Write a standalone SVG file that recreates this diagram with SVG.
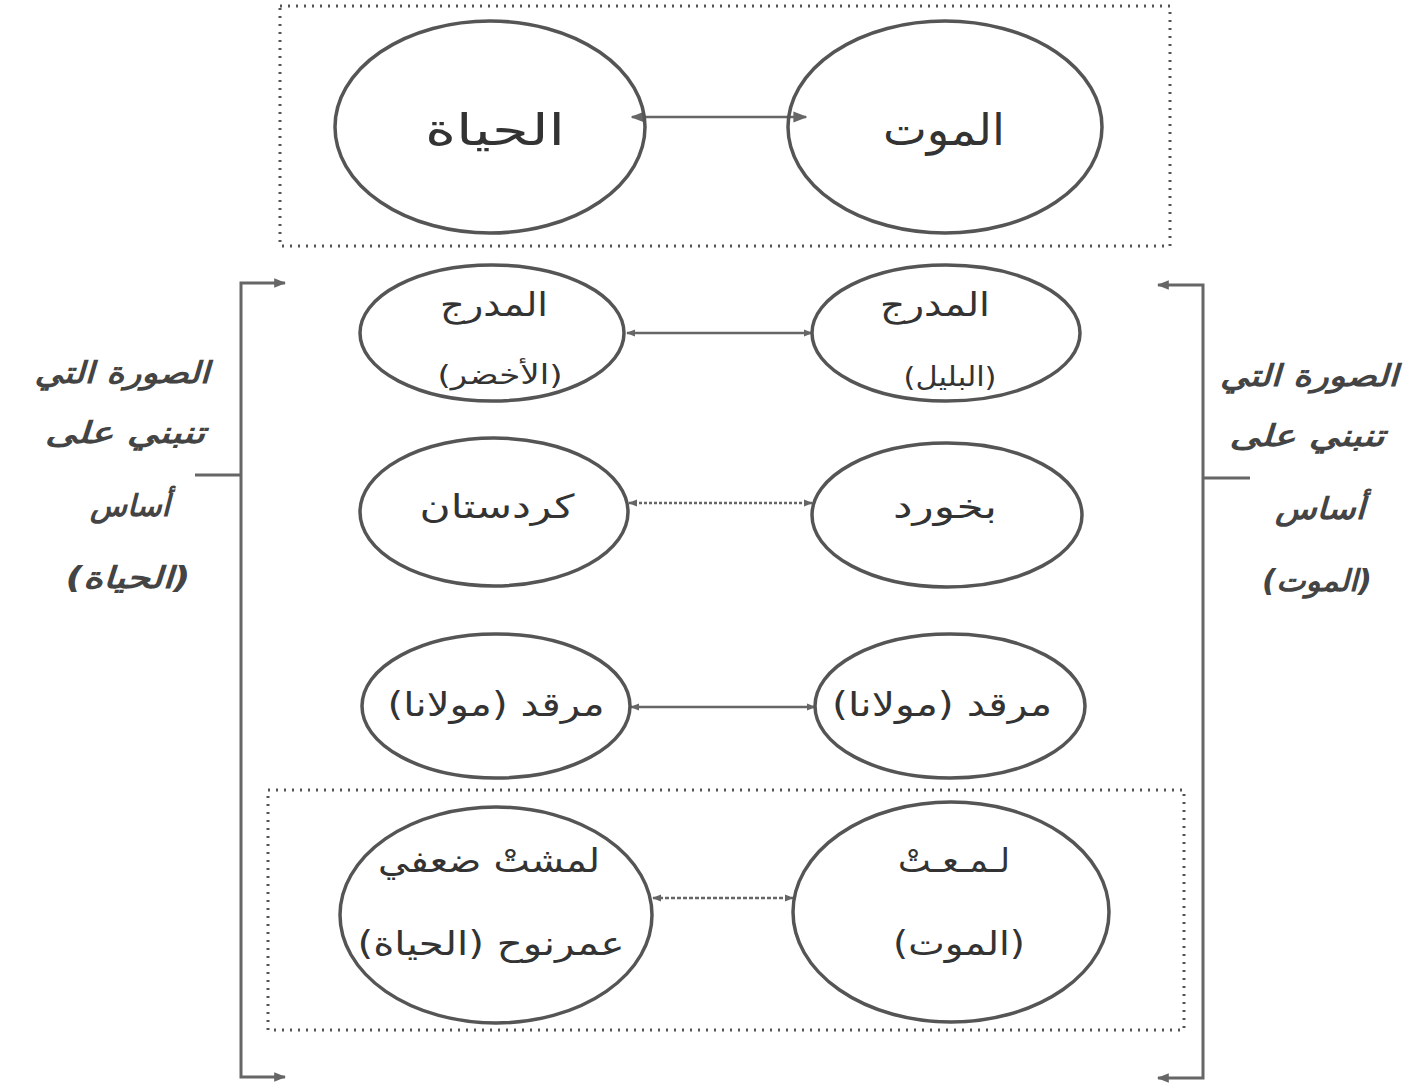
<svg xmlns="http://www.w3.org/2000/svg" width="1427" height="1091" viewBox="0 0 1427 1091">
<style>
.ell{fill:none;stroke:#555;stroke-width:3.5}
.t{font-family:"DejaVu Sans",sans-serif;fill:#333;text-anchor:middle}
.big{font-size:44px}
.mid{font-size:33px}
.sm{font-size:27px}
.side{font-family:"DejaVu Sans",sans-serif;fill:#444;text-anchor:middle;font-size:30px;font-weight:bold;font-style:italic}
.box{fill:none;stroke:#555;stroke-width:3;stroke-dasharray:2 6}
.con{fill:none;stroke:#666;stroke-width:2.5}
.br{fill:none;stroke:#666;stroke-width:3}
</style>
<defs>
<marker id="ah" viewBox="0 0 10 10" refX="9" refY="5" markerWidth="9" markerHeight="9" orient="auto-start-reverse" markerUnits="userSpaceOnUse">
<path d="M0,1 L10,5 L0,9 z" fill="#666"/>
</marker>
<marker id="ahb" viewBox="0 0 10 10" refX="9" refY="5" markerWidth="14" markerHeight="14" orient="auto-start-reverse" markerUnits="userSpaceOnUse">
<path d="M0,1 L10,5 L0,9 z" fill="#666"/>
</marker>
<marker id="ahk" viewBox="0 0 10 10" refX="9" refY="5" markerWidth="12" markerHeight="12" orient="auto-start-reverse" markerUnits="userSpaceOnUse">
<path d="M0,1 L10,5 L0,9 z" fill="#666"/>
</marker>
</defs>
<rect width="1427" height="1091" fill="#fff"/>

<g id="frames">
<rect class="box" x="280" y="6" width="890" height="240"/>
<rect class="box" x="268" y="790" width="916" height="240"/>
</g>

<g id="connectors">
<line class="con" x1="632" y1="117" x2="806" y2="117" stroke-width="3.5" marker-start="url(#ahb)" marker-end="url(#ahb)"/>
<line class="con" x1="627" y1="333" x2="812" y2="333" marker-start="url(#ah)" marker-end="url(#ah)"/>
<line class="con" x1="629" y1="503" x2="812" y2="503" stroke-dasharray="3 2" marker-start="url(#ah)" marker-end="url(#ah)"/>
<line class="con" x1="631" y1="707" x2="815" y2="707" marker-start="url(#ah)" marker-end="url(#ah)"/>
<line class="con" x1="653" y1="898" x2="793" y2="898" stroke-dasharray="4 2" marker-start="url(#ah)" marker-end="url(#ah)"/>
<path class="br" d="M285,283 H241 V1077 H285" marker-start="url(#ahk)" marker-end="url(#ahk)"/>
<line class="br" x1="195" y1="475" x2="241" y2="475"/>
<path class="br" d="M1158,285 H1203 V1078 H1158" marker-start="url(#ahk)" marker-end="url(#ahk)"/>
<line class="br" x1="1203" y1="478" x2="1250" y2="478"/>
</g>

<g id="n-hayat">
<ellipse class="ell" cx="490" cy="127" rx="155" ry="106"/>
<text class="t big" x="495" y="145" direction="rtl" textLength="140" lengthAdjust="spacingAndGlyphs">الحياة</text>
</g>
<g id="n-mawt">
<ellipse class="ell" cx="945" cy="127" rx="157" ry="106"/>
<text class="t big" x="944" y="145" direction="rtl" textLength="122" lengthAdjust="spacingAndGlyphs">الموت</text>
</g>

<g id="n-mudarraj-akhdar">
<ellipse class="ell" cx="492" cy="333" rx="132" ry="68"/>
<text class="t mid" x="494" y="316" direction="rtl" textLength="108" lengthAdjust="spacingAndGlyphs">المدرج</text>
<text class="t sm" x="500" y="384" direction="rtl" textLength="125" lengthAdjust="spacingAndGlyphs">(الأخضر)</text>
</g>
<g id="n-mudarraj-bulbul">
<ellipse class="ell" cx="946" cy="333" rx="134" ry="68"/>
<text class="t mid" x="935" y="316" direction="rtl" textLength="110" lengthAdjust="spacingAndGlyphs">المدرج</text>
<text class="t sm" x="950" y="386" direction="rtl" textLength="93" lengthAdjust="spacingAndGlyphs">(البليل)</text>
</g>

<g id="n-kurdistan">
<ellipse class="ell" cx="494" cy="512" rx="134" ry="74"/>
<text class="t mid" x="497" y="518" direction="rtl" textLength="155" lengthAdjust="spacingAndGlyphs">كردستان</text>
</g>
<g id="n-bakhord">
<ellipse class="ell" cx="947" cy="515" rx="135" ry="72"/>
<text class="t mid" x="945" y="518" direction="rtl" textLength="104" lengthAdjust="spacingAndGlyphs">بخورد</text>
</g>

<g id="n-marqad-l">
<ellipse class="ell" cx="496" cy="706" rx="134" ry="72"/>
<text class="t mid" x="496" y="716" direction="rtl" textLength="217" lengthAdjust="spacingAndGlyphs">مرقد (مولانا)</text>
</g>
<g id="n-marqad-r">
<ellipse class="ell" cx="950" cy="706" rx="135" ry="72"/>
<text class="t mid" x="942" y="716" direction="rtl" textLength="220" lengthAdjust="spacingAndGlyphs">مرقد (مولانا)</text>
</g>

<g id="n-lamasht">
<ellipse class="ell" cx="496" cy="915" rx="156" ry="108"/>
<text class="t mid" x="489" y="872" direction="rtl" textLength="222" lengthAdjust="spacingAndGlyphs">لمشتْ ضعفي</text>
<text class="t mid" x="491" y="955" direction="rtl" textLength="267" lengthAdjust="spacingAndGlyphs">عمرنوح (الحياة)</text>
</g>
<g id="n-lamaat">
<ellipse class="ell" cx="951" cy="912" rx="158" ry="110"/>
<text class="t mid" x="954" y="872" direction="rtl" textLength="112" lengthAdjust="spacingAndGlyphs">لـمـعـتْ</text>
<text class="t mid" x="959" y="955" direction="rtl" textLength="132" lengthAdjust="spacingAndGlyphs">(الموت)</text>
</g>

<g id="label-left">
<text class="side" x="122" y="383" direction="rtl" textLength="175" lengthAdjust="spacingAndGlyphs">الصورة التي</text>
<text class="side" x="125" y="443" direction="rtl" textLength="160" lengthAdjust="spacingAndGlyphs">تنبني على</text>
<text class="side" x="130" y="516" direction="rtl" textLength="80" lengthAdjust="spacingAndGlyphs">أساس</text>
<text class="side" x="128" y="588" direction="rtl" textLength="125" lengthAdjust="spacingAndGlyphs">(الحياة)</text>
</g>
<g id="label-right">
<text class="side" x="1309" y="386" direction="rtl" textLength="178" lengthAdjust="spacingAndGlyphs">الصورة التي</text>
<text class="side" x="1307" y="446" direction="rtl" textLength="155" lengthAdjust="spacingAndGlyphs">تنبني على</text>
<text class="side" x="1320" y="519" direction="rtl" textLength="90" lengthAdjust="spacingAndGlyphs">أساس</text>
<text class="side" x="1317" y="591" direction="rtl" textLength="110" lengthAdjust="spacingAndGlyphs">(الموت)</text>
</g>
</svg>
